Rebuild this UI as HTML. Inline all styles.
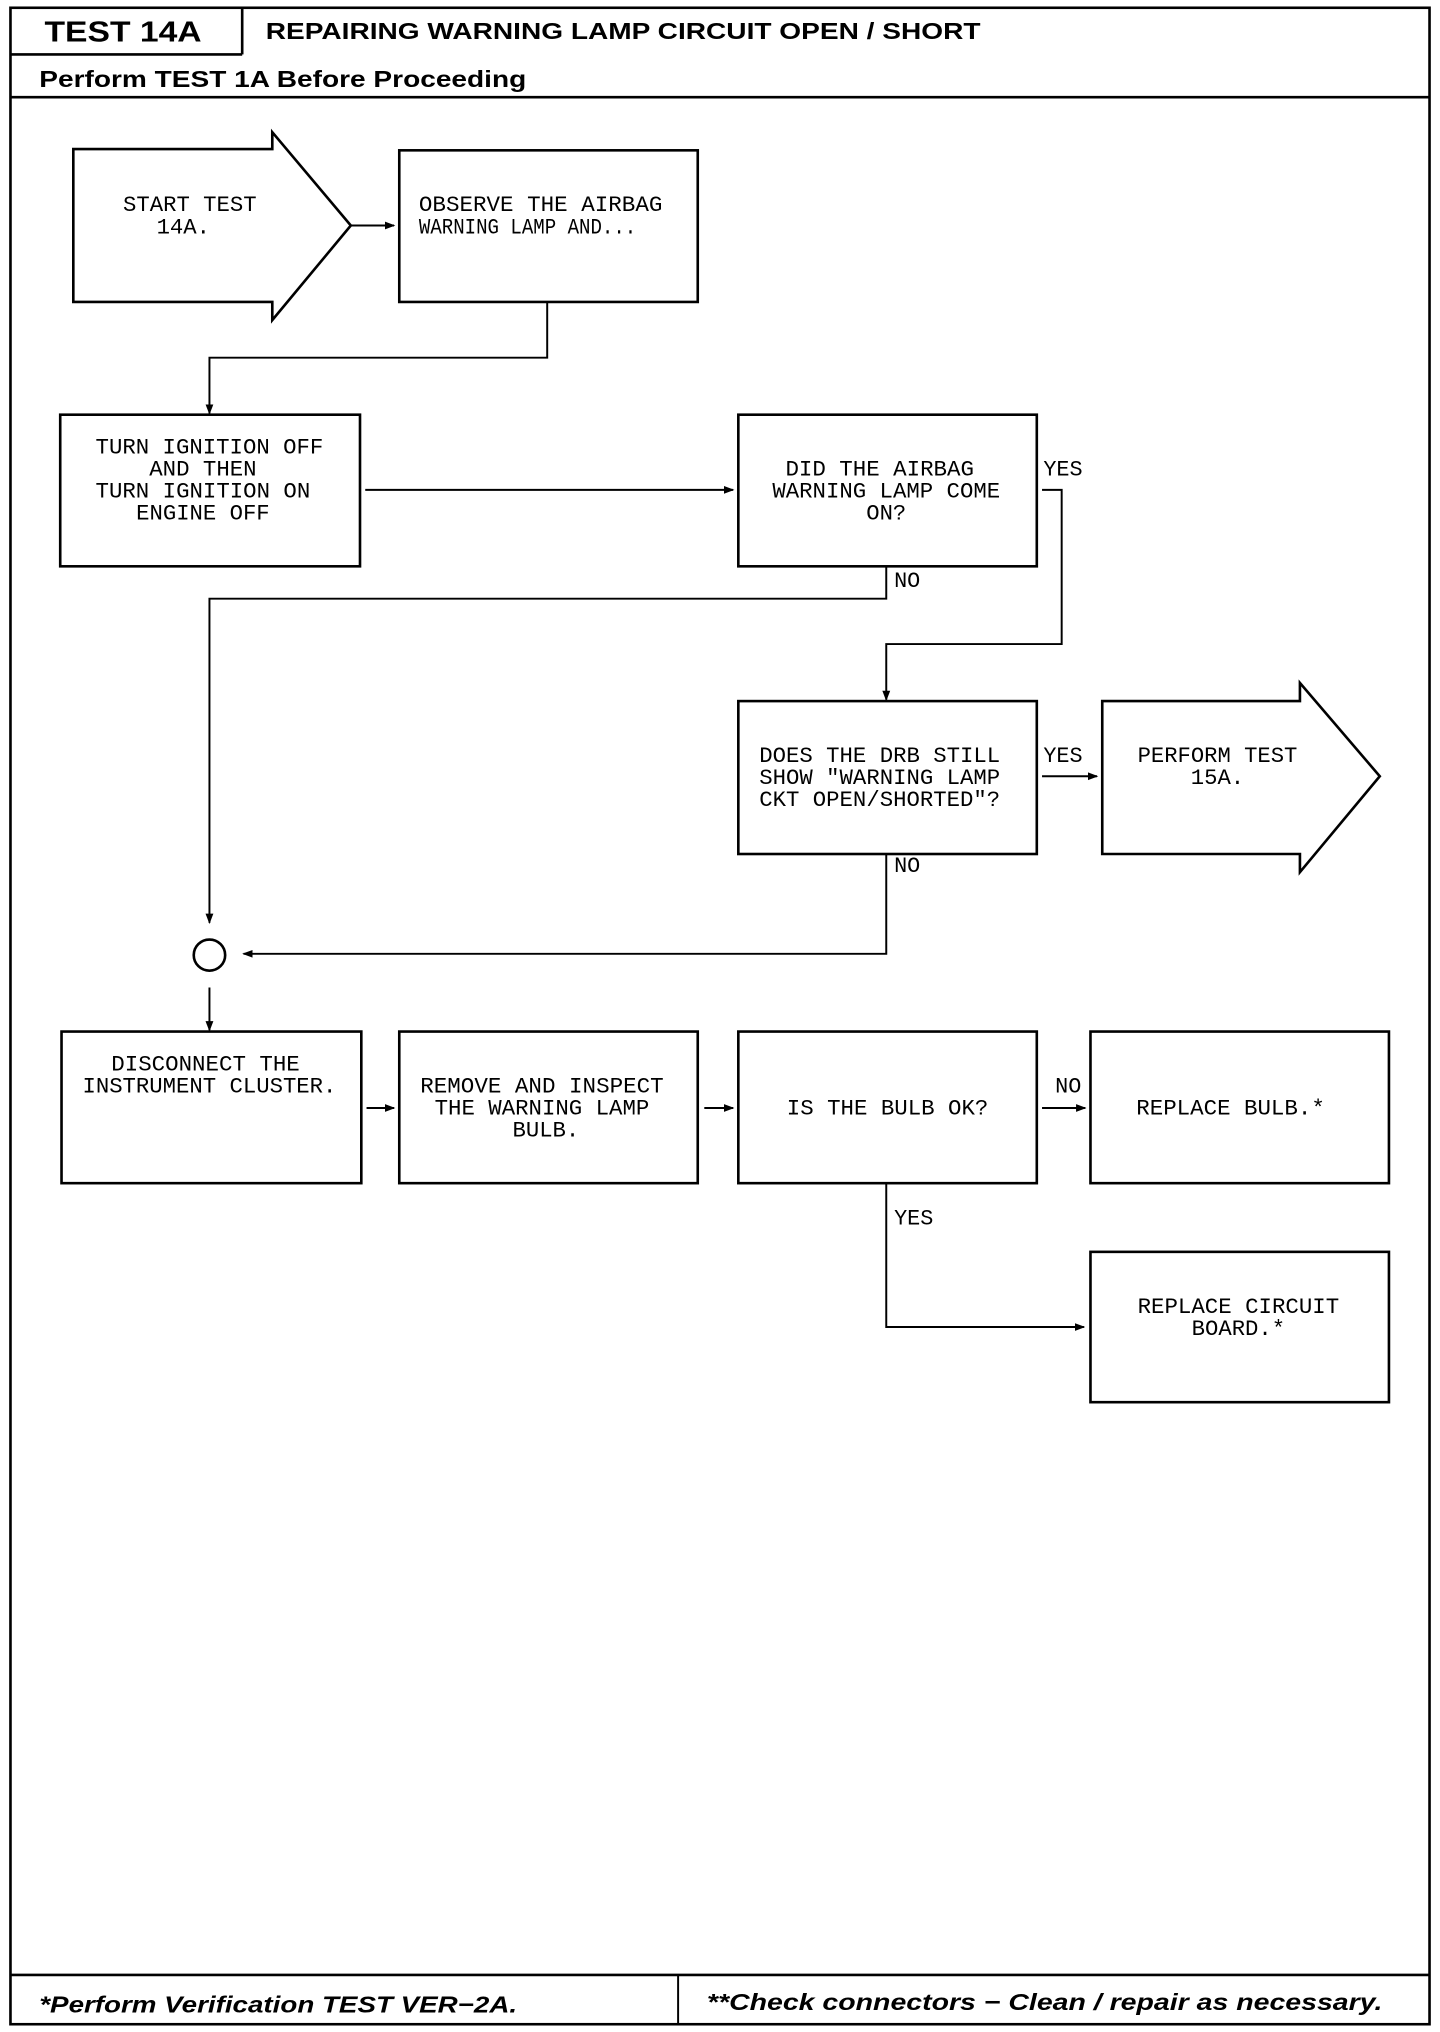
<!DOCTYPE html>
<html><head><meta charset="utf-8"><style>
html,body{margin:0;padding:0;background:#fff;}
svg{display:block;}
.b{font-family:"Liberation Mono",monospace;font-size:17px;fill:#000;}
.h{font-family:"Liberation Sans",sans-serif;font-weight:bold;fill:#000;}
</style></head><body>
<svg width="1440" height="2032" viewBox="0 0 1100 1568" preserveAspectRatio="none" xmlns="http://www.w3.org/2000/svg">
<defs><marker id="a" markerWidth="8" markerHeight="8" refX="7" refY="4" orient="auto" markerUnits="userSpaceOnUse"><path d="M0,1 L8,4 L0,7 z" fill="#000"/></marker></defs>
<g fill="none" stroke="#000">
<rect x="8" y="6" width="1084" height="1556" stroke-width="2"/>
<line x1="8" y1="42" x2="185" y2="42" stroke-width="2"/>
<line x1="185" y1="6" x2="185" y2="42" stroke-width="2"/>
<line x1="8" y1="75" x2="1092" y2="75" stroke-width="2"/>
<line x1="8" y1="1524" x2="1092" y2="1524" stroke-width="2"/>
<line x1="518" y1="1524" x2="518" y2="1562" stroke-width="1.5"/>
<g stroke-width="2">
<path d="M56,115 L208,115 L208,102 L268,174 L208,247 L208,233 L56,233 Z"/>
<rect x="305" y="116" width="228" height="117"/>
<rect x="46" y="320" width="229" height="117"/>
<rect x="564" y="320" width="228" height="117"/>
<rect x="564" y="541" width="228" height="118"/>
<path d="M842,541 L993,541 L993,527 L1054,599 L993,673 L993,659 L842,659 Z"/>
<circle cx="160" cy="737" r="12"/>
<rect x="47" y="796" width="229" height="117"/>
<rect x="305" y="796" width="228" height="117"/>
<rect x="564" y="796" width="228" height="117"/>
<rect x="833" y="796" width="228" height="117"/>
<rect x="833" y="966" width="228" height="116"/>
</g>
<g stroke-width="1.5" marker-end="url(#a)">
<line x1="268" y1="174" x2="301" y2="174"/>
<path d="M418,233 L418,276 L160,276 L160,319"/>
<line x1="279" y1="378" x2="560" y2="378"/>
<path d="M796,378 L811,378 L811,497 L677,497 L677,540"/>
<path d="M677,437 L677,462 L160,462 L160,712"/>
<line x1="796" y1="599" x2="838" y2="599"/>
<path d="M677,659 L677,736 L186,736"/>
<line x1="160" y1="762" x2="160" y2="795"/>
<line x1="280" y1="855" x2="301" y2="855"/>
<line x1="538" y1="855" x2="560" y2="855"/>
<line x1="796" y1="855" x2="829" y2="855"/>
<path d="M677,913 L677,1024 L828,1024"/>
</g>
</g>
<text class="h" x="34" y="32" font-size="22" textLength="120" lengthAdjust="spacingAndGlyphs">TEST 14A</text>
<text class="h" x="203" y="30" font-size="18" textLength="546" lengthAdjust="spacingAndGlyphs">REPAIRING WARNING LAMP CIRCUIT OPEN / SHORT</text>
<text class="h" x="30" y="67" font-size="18" textLength="372" lengthAdjust="spacingAndGlyphs">Perform TEST 1A Before Proceeding</text>
<text class="h" x="30" y="1553" font-size="18" font-style="italic" textLength="365" lengthAdjust="spacingAndGlyphs">*Perform Verification TEST VER−2A.</text>
<text class="h" x="540" y="1551" font-size="18" font-style="italic" textLength="516" lengthAdjust="spacingAndGlyphs">**Check connectors − Clean / repair as necessary.</text>
<g class="b" text-anchor="middle">
<text x="145" y="163" textLength="102" lengthAdjust="spacingAndGlyphs">START TEST</text>
<text x="140" y="180">14A.</text>
<text x="413" y="163" textLength="186" lengthAdjust="spacingAndGlyphs">OBSERVE THE AIRBAG</text>
<text x="403" y="180" textLength="166" lengthAdjust="spacingAndGlyphs">WARNING LAMP AND...</text>
<text x="160" y="350" textLength="174" lengthAdjust="spacingAndGlyphs">TURN IGNITION OFF</text>
<text x="155" y="367" textLength="82" lengthAdjust="spacingAndGlyphs">AND THEN</text>
<text x="155" y="384" textLength="164" lengthAdjust="spacingAndGlyphs">TURN IGNITION ON</text>
<text x="155" y="401" textLength="102" lengthAdjust="spacingAndGlyphs">ENGINE OFF</text>
<text x="672" y="367" textLength="144" lengthAdjust="spacingAndGlyphs">DID THE AIRBAG</text>
<text x="677" y="384" textLength="174" lengthAdjust="spacingAndGlyphs">WARNING LAMP COME</text>
<text x="677" y="401">ON?</text>
<text x="672" y="588" textLength="184" lengthAdjust="spacingAndGlyphs">DOES THE DRB STILL</text>
<text x="672" y="605" textLength="184" lengthAdjust="spacingAndGlyphs">SHOW "WARNING LAMP</text>
<text x="672" y="622" textLength="184" lengthAdjust="spacingAndGlyphs">CKT OPEN/SHORTED"?</text>
<text x="930" y="588" textLength="122" lengthAdjust="spacingAndGlyphs">PERFORM TEST</text>
<text x="930" y="605">15A.</text>
<text x="157" y="826" textLength="144" lengthAdjust="spacingAndGlyphs">DISCONNECT THE</text>
<text x="160" y="843" textLength="194" lengthAdjust="spacingAndGlyphs">INSTRUMENT CLUSTER.</text>
<text x="414" y="843" textLength="186" lengthAdjust="spacingAndGlyphs">REMOVE AND INSPECT</text>
<text x="414" y="860" textLength="164" lengthAdjust="spacingAndGlyphs">THE WARNING LAMP</text>
<text x="417" y="877">BULB.</text>
<text x="678" y="860" textLength="154" lengthAdjust="spacingAndGlyphs">IS THE BULB OK?</text>
<text x="940" y="860" textLength="144" lengthAdjust="spacingAndGlyphs">REPLACE BULB.*</text>
<text x="946" y="1013" textLength="154" lengthAdjust="spacingAndGlyphs">REPLACE CIRCUIT</text>
<text x="946" y="1030">BOARD.*</text>
</g>
<g class="b">
<text x="797" y="367" textLength="30" lengthAdjust="spacingAndGlyphs">YES</text>
<text x="683" y="453" textLength="20" lengthAdjust="spacingAndGlyphs">NO</text>
<text x="797" y="588" textLength="30" lengthAdjust="spacingAndGlyphs">YES</text>
<text x="683" y="673" textLength="20" lengthAdjust="spacingAndGlyphs">NO</text>
<text x="806" y="843" textLength="20" lengthAdjust="spacingAndGlyphs">NO</text>
<text x="683" y="945" textLength="30" lengthAdjust="spacingAndGlyphs">YES</text>
</g>
</svg>
</body></html>
